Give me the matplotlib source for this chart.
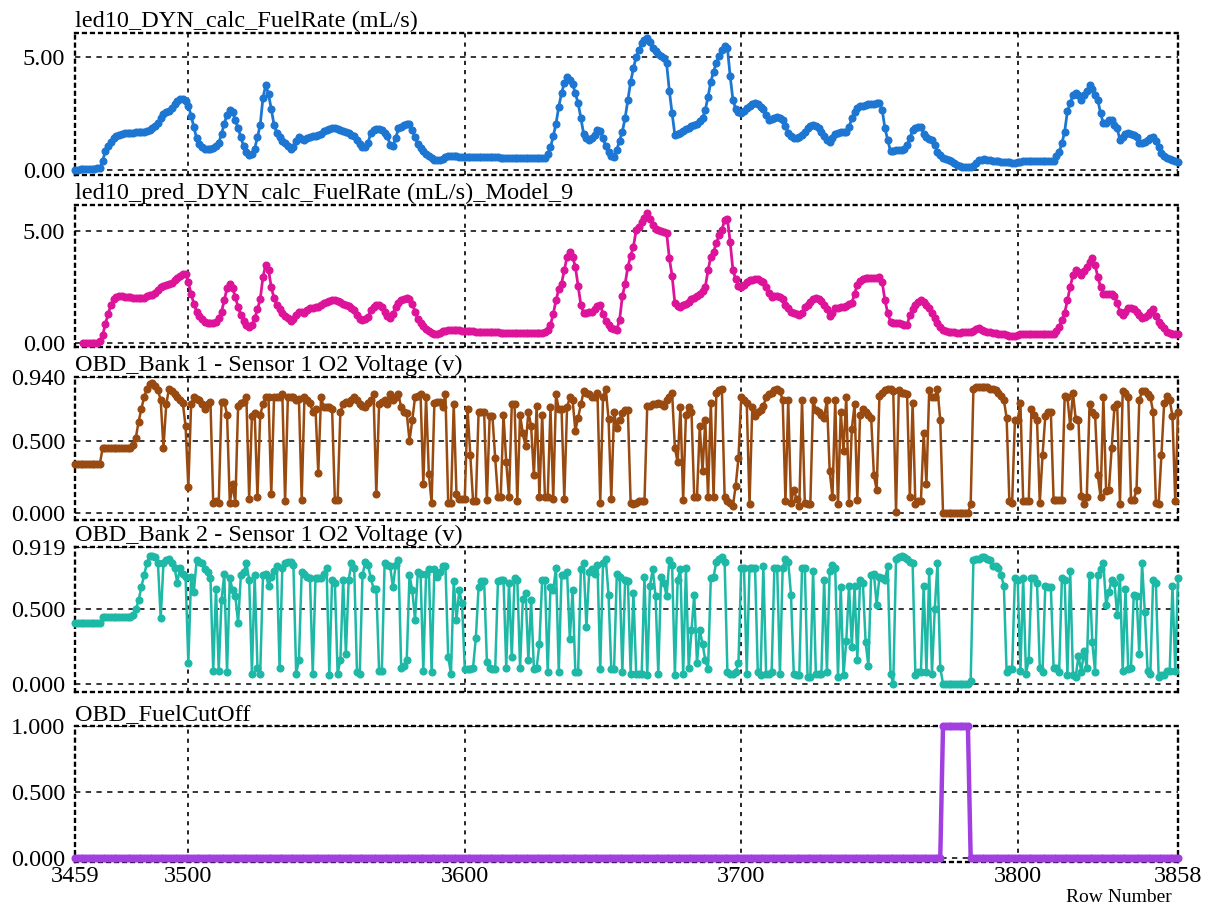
import numpy as np
import matplotlib
matplotlib.use("Agg")
import matplotlib.pyplot as plt

plt.rcParams['font.family'] = ['Liberation Serif', 'DejaVu Serif']

first_row = 3459
last_row = 3858

fuel_rate = [
    0.00, 0.02, 0.03, 0.04, 0.05, 0.05, 0.06, 0.06, 0.07, 0.10,
    0.40, 0.85, 1.05, 1.25, 1.42, 1.52, 1.56, 1.60, 1.62, 1.63,
    1.64, 1.65, 1.66, 1.67, 1.68, 1.70, 1.72, 1.78, 1.85, 1.95,
    2.10, 2.30, 2.48, 2.55, 2.60, 2.75, 2.90, 3.05, 3.12, 3.15,
    3.05, 2.85, 2.40, 1.90, 1.40, 1.15, 1.00, 0.95, 0.93, 0.95,
    0.98, 1.05, 1.20, 1.60, 2.05, 2.45, 2.65, 2.55, 2.20, 1.85,
    1.45, 1.05, 0.80, 0.68, 0.72, 0.95, 1.45, 2.00, 3.20, 3.76,
    3.35, 2.70, 2.00, 1.65, 1.45, 1.30, 1.18, 1.05, 0.95, 1.00,
    1.30, 1.47, 1.38, 1.33, 1.40, 1.47, 1.50, 1.52, 1.55, 1.60,
    1.72, 1.78, 1.82, 1.84, 1.84, 1.82, 1.78, 1.72, 1.68, 1.62,
    1.56, 1.50, 1.35, 1.15, 1.02, 1.03, 1.20, 1.65, 1.76, 1.80,
    1.80, 1.75, 1.65, 1.50, 1.10, 1.08, 1.40, 1.84, 1.92, 1.98,
    2.05, 2.02, 1.75, 1.45, 1.15, 0.98, 0.85, 0.72, 0.64, 0.55,
    0.46, 0.44, 0.45, 0.50, 0.56, 0.60, 0.61, 0.60, 0.60, 0.59,
    0.59, 0.59, 0.58, 0.58, 0.58, 0.58, 0.57, 0.57, 0.57, 0.57,
    0.56, 0.56, 0.56, 0.56, 0.55, 0.55, 0.55, 0.55, 0.55, 0.54,
    0.54, 0.54, 0.54, 0.54, 0.53, 0.53, 0.53, 0.53, 0.53, 0.53,
    0.55, 0.70, 1.00, 1.50, 2.05, 2.80, 3.40, 3.85, 4.10, 4.00,
    3.80, 3.40, 2.95, 2.30, 1.60, 1.40, 1.33, 1.40, 1.55, 1.75,
    1.72, 1.40, 1.05, 0.78, 0.62, 0.58, 0.90, 1.30, 1.70, 2.30,
    3.10, 3.90, 4.50, 5.00, 5.30, 5.60, 5.75, 5.85, 5.65, 5.40,
    5.25, 5.15, 5.05, 4.95, 4.72, 3.50, 2.50, 1.55, 1.60, 1.65,
    1.72, 1.80, 1.88, 1.93, 1.97, 2.02, 2.15, 2.30, 2.65, 3.25,
    3.90, 4.35, 4.75, 5.05, 5.30, 5.50, 5.40, 4.15, 3.10, 2.70,
    2.55, 2.50, 2.60, 2.75, 2.85, 2.93, 2.95, 2.90, 2.80, 2.70,
    2.45, 2.22, 2.25, 2.32, 2.35, 2.30, 2.20, 1.95, 1.62, 1.50,
    1.42, 1.40, 1.45, 1.55, 1.70, 1.85, 1.95, 1.99, 1.95, 1.84,
    1.70, 1.50, 1.35, 1.25, 1.40, 1.60, 1.65, 1.67, 1.68, 1.70,
    1.90, 2.29, 2.55, 2.75, 2.82, 2.85, 2.88, 2.90, 2.92, 2.93,
    2.95, 2.95, 2.65, 1.84, 1.33, 0.82, 0.85, 0.88, 0.90, 0.88,
    0.95, 1.10, 1.40, 1.75, 1.88, 1.92, 1.90, 1.60, 1.45, 1.38,
    1.33, 1.10, 0.80, 0.65, 0.55, 0.50, 0.45, 0.38, 0.30, 0.24,
    0.18, 0.15, 0.14, 0.14, 0.15, 0.16, 0.30, 0.44, 0.46, 0.47,
    0.46, 0.44, 0.42, 0.40, 0.38, 0.37, 0.36, 0.35, 0.34, 0.33,
    0.33, 0.35, 0.37, 0.39, 0.40, 0.41, 0.41, 0.41, 0.41, 0.41,
    0.41, 0.41, 0.41, 0.41, 0.42, 0.60, 0.80, 1.18, 1.70, 2.60,
    2.95, 3.32, 3.40, 3.30, 3.10, 3.30, 3.50, 3.76, 3.60, 3.30,
    3.10, 2.50, 2.06, 2.10, 2.20, 2.20, 2.00, 1.84, 1.33, 1.45,
    1.58, 1.62, 1.60, 1.55, 1.45, 1.20, 1.18, 1.25, 1.33, 1.40,
    1.47, 1.30, 1.00, 0.74, 0.60, 0.52, 0.47, 0.43, 0.40, 0.37,
]

nan = float('nan')
fuel_rate_pred = [
    nan, nan, nan, 0.00, 0.00, 0.00, 0.00, 0.01, 0.02, 0.08,
    0.35, 0.85, 1.30, 1.70, 1.98, 2.05, 2.08, 2.08, 2.06, 2.05,
    2.04, 2.03, 2.02, 2.02, 2.00, 2.02, 2.08, 2.12, 2.15, 2.25,
    2.38, 2.50, 2.55, 2.60, 2.62, 2.68, 2.80, 2.92, 3.00, 3.08,
    3.10, 2.70, 2.20, 1.75, 1.40, 1.20, 1.05, 0.95, 0.90, 0.88,
    0.90, 0.95, 1.10, 1.40, 1.90, 2.45, 2.62, 2.45, 2.05, 1.60,
    1.25, 1.00, 0.82, 0.70, 0.78, 1.10, 1.50, 1.95, 2.95, 3.50,
    3.25, 2.50, 2.00, 1.70, 1.50, 1.35, 1.22, 1.10, 1.00, 1.05,
    1.25, 1.40, 1.38, 1.35, 1.45, 1.55, 1.58, 1.60, 1.60, 1.68,
    1.78, 1.85, 1.88, 1.90, 1.90, 1.88, 1.82, 1.76, 1.70, 1.65,
    1.58, 1.45, 1.25, 1.05, 1.02, 1.05, 1.15, 1.45, 1.62, 1.68,
    1.70, 1.62, 1.40, 1.20, 1.10, 1.30, 1.60, 1.80, 1.92, 1.98,
    2.00, 1.98, 1.76, 1.40, 1.05, 0.90, 0.75, 0.62, 0.52, 0.45,
    0.42, 0.40, 0.45, 0.52, 0.55, 0.57, 0.58, 0.58, 0.57, 0.56,
    0.55, 0.54, 0.53, 0.52, 0.52, 0.51, 0.50, 0.50, 0.49, 0.49,
    0.48, 0.48, 0.47, 0.47, 0.46, 0.46, 0.46, 0.46, 0.46, 0.46,
    0.46, 0.46, 0.46, 0.46, 0.46, 0.46, 0.46, 0.46, 0.46, 0.46,
    0.47, 0.60, 0.80, 1.30, 1.90, 2.40, 2.65, 3.25, 3.85, 4.05,
    3.85, 3.40, 2.55, 1.70, 1.34, 1.36, 1.38, 1.40, 1.50, 1.65,
    1.70, 1.30, 1.00, 0.80, 0.68, 0.62, 0.60, 1.03, 2.08, 2.65,
    3.40, 3.90, 4.30, 5.04, 5.20, 5.40, 5.60, 5.80, 5.55, 5.27,
    5.10, 5.04, 5.00, 4.95, 4.93, 3.78, 3.00, 1.78, 1.65, 1.60,
    1.68, 1.75, 1.85, 1.95, 2.00, 2.08, 2.20, 2.30, 2.50, 3.25,
    3.85, 4.08, 4.45, 4.80, 5.04, 5.50, 5.55, 4.50, 3.25, 2.85,
    2.55, 2.50, 2.60, 2.70, 2.80, 2.83, 2.85, 2.85, 2.78, 2.70,
    2.50, 2.25, 2.05, 2.08, 2.10, 2.05, 1.95, 1.70, 1.55, 1.40,
    1.34, 1.28, 1.25, 1.35, 1.60, 1.70, 1.85, 1.95, 2.00, 1.95,
    1.86, 1.70, 1.50, 1.20, 1.35, 1.56, 1.58, 1.60, 1.60, 1.65,
    1.72, 1.78, 2.20, 2.60, 2.75, 2.85, 2.88, 2.88, 2.90, 2.90,
    2.92, 2.95, 2.70, 1.90, 1.34, 0.95, 0.90, 0.88, 0.88, 0.85,
    0.82, 0.80, 1.25, 1.50, 1.70, 1.82, 1.90, 1.85, 1.70, 1.55,
    1.34, 1.10, 0.88, 0.70, 0.58, 0.52, 0.50, 0.48, 0.47, 0.46,
    0.46, 0.47, 0.48, 0.49, 0.50, 0.55, 0.62, 0.65, 0.60, 0.55,
    0.50, 0.48, 0.46, 0.44, 0.42, 0.40, 0.38, 0.36, 0.33, 0.30,
    0.32, 0.35, 0.38, 0.40, 0.40, 0.40, 0.40, 0.40, 0.40, 0.40,
    0.40, 0.40, 0.40, 0.40, 0.40, 0.55, 0.73, 1.03, 1.34, 1.90,
    2.50, 3.03, 3.25, 3.15, 3.03, 3.20, 3.40, 3.60, 3.78, 3.48,
    2.95, 2.50, 2.20, 2.20, 2.20, 2.20, 2.10, 1.78, 1.40, 1.25,
    1.40, 1.56, 1.55, 1.50, 1.40, 1.25, 1.10, 1.18, 1.25, 1.40,
    1.50, 1.20, 0.95, 0.80, 0.65, 0.50, 0.45, 0.42, 0.41, 0.40,
]

o2_bank1 = [
    0.34, 0.34, 0.34, 0.34, 0.34, 0.34, 0.34, 0.34, 0.34, 0.34,
    0.45, 0.45, 0.45, 0.45, 0.45, 0.45, 0.45, 0.45, 0.45, 0.45,
    0.45, 0.47, 0.52, 0.63, 0.72, 0.80, 0.86, 0.89, 0.90, 0.88,
    0.85, 0.78, 0.45, 0.75, 0.86, 0.84, 0.82, 0.80, 0.78, 0.76,
    0.60, 0.18, 0.75, 0.80, 0.79, 0.78, 0.75, 0.72, 0.75, 0.77,
    0.07, 0.08, 0.07, 0.77, 0.77, 0.68, 0.07, 0.20, 0.07, 0.74,
    0.76, 0.77, 0.80, 0.10, 0.67, 0.69, 0.11, 0.68, 0.75, 0.80,
    0.80, 0.13, 0.80, 0.80, 0.80, 0.82, 0.08, 0.80, 0.80, 0.80,
    0.78, 0.79, 0.09, 0.80, 0.78, 0.76, 0.70, 0.72, 0.28, 0.80,
    0.73, 0.73, 0.73, 0.72, 0.09, 0.09, 0.70, 0.75, 0.77, 0.76,
    0.78, 0.80, 0.78, 0.75, 0.74, 0.73, 0.76, 0.78, 0.82, 0.13,
    0.75, 0.77, 0.78, 0.75, 0.82, 0.78, 0.80, 0.82, 0.73, 0.70,
    0.69, 0.50, 0.64, 0.80, 0.81, 0.82, 0.20, 0.80, 0.27, 0.07,
    0.76, 0.77, 0.77, 0.73, 0.82, 0.07, 0.07, 0.75, 0.13, 0.10,
    0.10, 0.10, 0.72, 0.40, 0.08, 0.08, 0.70, 0.70, 0.70, 0.09,
    0.67, 0.67, 0.38, 0.11, 0.11, 0.68, 0.35, 0.11, 0.75, 0.75,
    0.08, 0.68, 0.55, 0.46, 0.70, 0.60, 0.26, 0.74, 0.11, 0.68,
    0.11, 0.11, 0.73, 0.10, 0.82, 0.72, 0.72, 0.10, 0.73, 0.80,
    0.78, 0.57, 0.66, 0.75, 0.84, 0.83, 0.82, 0.80, 0.80, 0.83,
    0.07, 0.80, 0.86, 0.65, 0.10, 0.70, 0.59, 0.64, 0.69, 0.71,
    0.71, 0.07, 0.06, 0.07, 0.08, 0.08, 0.08, 0.74, 0.74, 0.75,
    0.75, 0.76, 0.75, 0.74, 0.78, 0.80, 0.83, 0.45, 0.35, 0.73,
    0.09, 0.68, 0.73, 0.70, 0.11, 0.11, 0.60, 0.29, 0.64, 0.11,
    0.76, 0.11, 0.83, 0.85, 0.86, 0.11, 0.08, 0.07, 0.05, 0.19,
    0.38, 0.80, 0.78, 0.76, 0.06, 0.73, 0.67, 0.70, 0.71, 0.74,
    0.80, 0.82, 0.83, 0.85, 0.86, 0.84, 0.78, 0.08, 0.78, 0.07,
    0.16, 0.10, 0.05, 0.78, 0.07, 0.06, 0.06, 0.78, 0.71, 0.70,
    0.68, 0.66, 0.78, 0.29, 0.11, 0.78, 0.06, 0.70, 0.43, 0.80,
    0.07, 0.58, 0.75, 0.09, 0.68, 0.72, 0.70, 0.68, 0.66, 0.26,
    0.16, 0.81, 0.83, 0.85, 0.86, 0.86, 0.84, 0.01, 0.85, 0.83,
    0.83, 0.82, 0.11, 0.76, 0.06, 0.08, 0.08, 0.55, 0.20, 0.85,
    0.80, 0.80, 0.86, 0.64, 0.00, 0.00, 0.00, 0.00, 0.00, 0.00,
    0.00, 0.00, 0.00, 0.00, 0.06, 0.86, 0.87, 0.87, 0.87, 0.87,
    0.87, 0.86, 0.86, 0.85, 0.83, 0.81, 0.78, 0.66, 0.08, 0.07,
    0.64, 0.64, 0.76, 0.08, 0.08, 0.08, 0.72, 0.68, 0.64, 0.07,
    0.40, 0.67, 0.70, 0.70, 0.09, 0.09, 0.09, 0.09, 0.81, 0.80,
    0.60, 0.83, 0.65, 0.64, 0.12, 0.06, 0.11, 0.75, 0.70, 0.68,
    0.26, 0.11, 0.80, 0.15, 0.16, 0.45, 0.73, 0.75, 0.06, 0.84,
    0.83, 0.80, 0.09, 0.09, 0.16, 0.78, 0.84, 0.84, 0.82, 0.80,
    0.70, 0.07, 0.06, 0.40, 0.76, 0.81, 0.78, 0.67, 0.08, 0.70,
]

o2_bank2 = [
    0.41, 0.41, 0.41, 0.41, 0.41, 0.41, 0.41, 0.41, 0.41, 0.41,
    0.45, 0.45, 0.45, 0.45, 0.45, 0.45, 0.45, 0.45, 0.45, 0.45,
    0.45, 0.46, 0.50, 0.56, 0.65, 0.73, 0.81, 0.86, 0.86, 0.85,
    0.81, 0.44, 0.81, 0.83, 0.84, 0.81, 0.78, 0.68, 0.78, 0.74,
    0.72, 0.14, 0.72, 0.62, 0.83, 0.82, 0.81, 0.77, 0.75, 0.71,
    0.09, 0.64, 0.09, 0.56, 0.74, 0.08, 0.71, 0.63, 0.59, 0.41,
    0.73, 0.75, 0.81, 0.70, 0.07, 0.73, 0.11, 0.07, 0.73, 0.74,
    0.66, 0.72, 0.76, 0.79, 0.11, 0.78, 0.81, 0.82, 0.82, 0.80,
    0.07, 0.16, 0.75, 0.74, 0.72, 0.71, 0.07, 0.71, 0.71, 0.71,
    0.74, 0.78, 0.06, 0.70, 0.68, 0.07, 0.16, 0.70, 0.20, 0.70,
    0.81, 0.78, 0.08, 0.07, 0.73, 0.82, 0.80, 0.71, 0.64, 0.64,
    0.09, 0.09, 0.81, 0.80, 0.79, 0.65, 0.80, 0.83, 0.11, 0.12,
    0.16, 0.73, 0.63, 0.43, 0.75, 0.74, 0.09, 0.74, 0.77, 0.08,
    0.77, 0.72, 0.75, 0.79, 0.79, 0.18, 0.07, 0.69, 0.43, 0.63,
    0.54, 0.10, 0.10, 0.10, 0.11, 0.31, 0.65, 0.69, 0.69, 0.15,
    0.11, 0.10, 0.10, 0.69, 0.70, 0.70, 0.11, 0.68, 0.18, 0.71,
    0.70, 0.11, 0.57, 0.61, 0.16, 0.56, 0.10, 0.11, 0.27, 0.70,
    0.70, 0.08, 0.65, 0.63, 0.78, 0.08, 0.73, 0.73, 0.75, 0.30,
    0.63, 0.08, 0.08, 0.77, 0.81, 0.38, 0.75, 0.77, 0.74, 0.80,
    0.10, 0.81, 0.84, 0.60, 0.10, 0.10, 0.74, 0.72, 0.08, 0.70,
    0.69, 0.07, 0.61, 0.07, 0.07, 0.07, 0.72, 0.06, 0.66, 0.77,
    0.59, 0.07, 0.72, 0.68, 0.59, 0.83, 0.80, 0.06, 0.70, 0.77,
    0.07, 0.78, 0.11, 0.36, 0.60, 0.14, 0.36, 0.27, 0.16, 0.10,
    0.71, 0.72, 0.82, 0.84, 0.85, 0.82, 0.08, 0.07, 0.07, 0.08,
    0.14, 0.78, 0.78, 0.07, 0.78, 0.78, 0.78, 0.08, 0.06, 0.79,
    0.07, 0.07, 0.08, 0.78, 0.78, 0.07, 0.78, 0.84, 0.82, 0.60,
    0.07, 0.06, 0.06, 0.78, 0.78, 0.05, 0.05, 0.76, 0.07, 0.07,
    0.07, 0.70, 0.08, 0.76, 0.80, 0.78, 0.05, 0.65, 0.06, 0.29,
    0.66, 0.25, 0.66, 0.16, 0.70, 0.68, 0.28, 0.12, 0.73, 0.74,
    0.53, 0.72, 0.71, 0.70, 0.79, 0.07, 0.00, 0.84, 0.85, 0.86,
    0.85, 0.84, 0.82, 0.81, 0.06, 0.08, 0.08, 0.66, 0.08, 0.76,
    0.07, 0.50, 0.81, 0.11, 0.00, 0.00, 0.00, 0.00, 0.00, 0.00,
    0.00, 0.00, 0.00, 0.00, 0.02, 0.83, 0.84, 0.84, 0.85, 0.85,
    0.84, 0.83, 0.79, 0.79, 0.78, 0.73, 0.66, 0.08, 0.10, 0.10,
    0.71, 0.70, 0.09, 0.71, 0.07, 0.16, 0.71, 0.71, 0.68, 0.11,
    0.08, 0.66, 0.65, 0.65, 0.11, 0.11, 0.08, 0.71, 0.70, 0.06,
    0.76, 0.06, 0.05, 0.19, 0.08, 0.22, 0.11, 0.73, 0.28, 0.08,
    0.73, 0.77, 0.81, 0.53, 0.62, 0.70, 0.68, 0.46, 0.72, 0.09,
    0.64, 0.10, 0.11, 0.60, 0.59, 0.20, 0.81, 0.48, 0.09, 0.07,
    0.70, 0.68, 0.05, 0.06, 0.06, 0.09, 0.09, 0.66, 0.09, 0.71,
]

# fuel cut-off flag: active for rows 3773-3782
fuel_cut_start = 3773
fuel_cut_end = 3782

rows = np.arange(first_row, last_row + 1)
fuel_cut = np.where((rows >= fuel_cut_start) & (rows <= fuel_cut_end), 1.0, 0.0)

for name, s in [('fuel_rate', fuel_rate), ('fuel_rate_pred', fuel_rate_pred),
                ('o2_bank1', o2_bank1), ('o2_bank2', o2_bank2)]:
    assert len(s) == len(rows), (name, len(s))

panels = [
    dict(title='led10_DYN_calc_FuelRate (mL/s)', y=fuel_rate, color='#1c76d2',
         ylim=(-0.22, 6.06), ticks=[0, 5], labels=['0.00', '5.00'], top=33, bottom=175, lw=2.0),
    dict(title='led10_pred_DYN_calc_FuelRate (mL/s)_Model_9', y=fuel_rate_pred, color='#dd1499',
         ylim=(-0.18, 6.16), ticks=[0, 5], labels=['0.00', '5.00'], top=205, bottom=347, lw=2.0),
    dict(title='OBD_Bank 1 - Sensor 1 O2 Voltage (v)', y=o2_bank1, color='#984a10',
         ylim=(-0.048, 0.94), ticks=[0, 0.5, 0.94], labels=['0.000', '0.500', '0.940'],
         top=377, bottom=520, lw=1.8),
    dict(title='OBD_Bank 2 - Sensor 1 O2 Voltage (v)', y=o2_bank2, color='#1eb8a6',
         ylim=(-0.054, 0.919), ticks=[0, 0.5, 0.919], labels=['0.000', '0.500', '0.919'],
         top=547, bottom=692, lw=1.8),
    dict(title='OBD_FuelCutOff', y=fuel_cut, color='#a23fe0',
         ylim=(-0.03, 1.0), ticks=[0, 0.5, 1.0], labels=['0.000', '0.500', '1.000'],
         top=726, bottom=862, lw=3.2),
]

W, H = 1215, 909
fig = plt.figure(figsize=(W / 100, H / 100), dpi=100)

left_px, right_px = 75, 1178
xgrid = [3500, 3600, 3700, 3800]
font_size = 17.5

axes = []
for p in panels:
    rect = [left_px / W, 1 - p['bottom'] / H, (right_px - left_px) / W, (p['bottom'] - p['top']) / H]
    ax = fig.add_axes(rect)
    axes.append(ax)
    ax.plot(rows, p['y'], color=p['color'], lw=p['lw'], marker='o', ms=4.8,
            mec=p['color'], mfc=p['color'], clip_on=False, zorder=3)
    ax.set_xlim(first_row, last_row)
    ax.set_ylim(*p['ylim'])
    ax.set_yticks(p['ticks'])
    ax.set_yticklabels(p['labels'], fontsize=font_size)
    for spine in ax.spines.values():
        spine.set_linestyle((0, (1.2, 2.2)))
        spine.set_linewidth(1.7)
        spine.set_color('black')
    for yv in p['ticks']:
        ax.axhline(yv, color='black', lw=1.1, ls=(0, (3.5, 3.5)), zorder=1)
    for xv in xgrid:
        ax.axvline(xv, color='black', lw=1.2, ls=(0, (2.5, 3)), zorder=1)
    ax.tick_params(axis='both', length=0, pad=7)
    ax.text(0.0, 1.005, p['title'], transform=ax.transAxes, ha='left', va='bottom',
            fontsize=font_size)
    ax.set_xticks([])

ax = axes[-1]
ax.set_xticks([first_row] + xgrid + [last_row])
ax.set_xticklabels([str(v) for v in [first_row] + xgrid + [last_row]], fontsize=font_size)
ax.tick_params(axis='x', pad=3)
fig.text(1172 / W, 1 - 897 / H, 'Row Number', ha='right', va='center', fontsize=14)

fig.savefig('out.png', dpi=100, facecolor='white')
